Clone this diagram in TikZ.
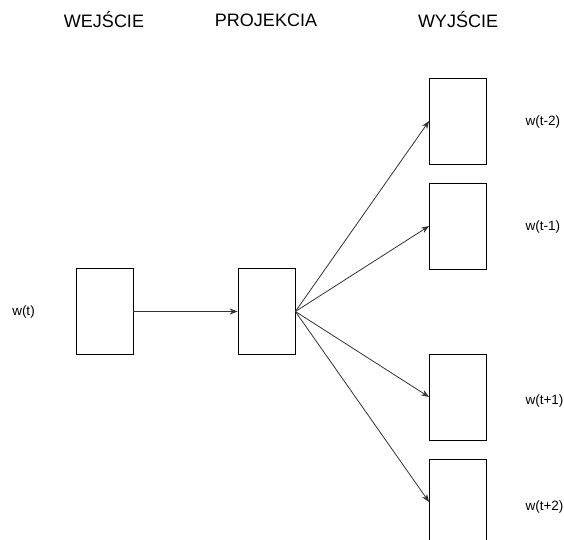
\documentclass[tikz,border=0pt]{standalone}
\usepackage{fontspec}
\setmainfont{Liberation Sans}
\usetikzlibrary{arrows.meta}

\tikzset{
  box/.style={draw,line width=0.8pt,inner sep=0pt,minimum width=57pt,minimum height=86pt},
  head/.style={font=\fontsize{18}{20}\selectfont},
  word/.style={font=\fontsize{13.5}{15}\selectfont},
  conn/.style={draw=black!80,line width=0.8pt,-{Stealth[length=8pt,width=6pt]}}
}

\begin{document}
\begin{tikzpicture}[x=1pt,y=-1pt]
     \useasboundingbox (0,0) rectangle (564,539);
     \clip (0,0) rectangle (564,539);
     % columns
     \node[head] (hin)   at (104,20)   {WEJŚCIE};
     \node[head] (hproj) at (266,20)   {PROJEKCIA};
     \node[head] (hout)  at (458,20)   {WYJŚCIE};
     % boxes
     \node[box] (in)   at (104.5,311.5) {};
     \node[box] (proj) at (266.5,311.5) {};
     \node[box] (out1) at (458,121) {};
     \node[box] (out2) at (458,226) {};
     \node[box] (out3) at (458,397) {};
     \node[box] (out4) at (458,502) {};
     % words
     \node[word] (win) at (23.5,312) {w(t)};
     \node[word,anchor=west] (w1) at (522,122) {w(t-2)};
     \node[word,anchor=west] (w2) at (522,227) {w(t-1)};
     \node[word,anchor=west] (w3) at (522,401) {w(t+1)};
     \node[word,anchor=west] (w4) at (522,507) {w(t+2)};
     % arrows
     \draw[conn] (in.east) -- (proj.west);
     \foreach \o in {out1,out2,out3,out4}
       \draw[conn] (proj.east) -- (\o.west);
\end{tikzpicture}
\end{document}
